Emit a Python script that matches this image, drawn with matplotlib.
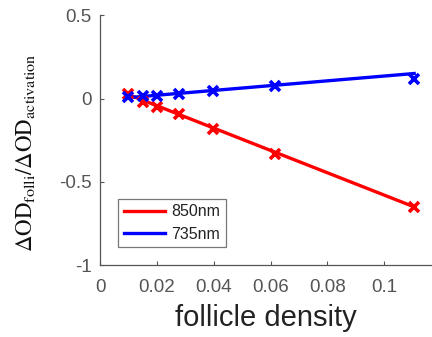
import matplotlib
matplotlib.use("Agg")
import matplotlib.pyplot as plt
import numpy as np

density = [0.0098, 0.0152, 0.0200, 0.0277, 0.0397, 0.0617, 0.1105]
od_850 = [0.030, -0.020, -0.050, -0.095, -0.180, -0.330, -0.650]
od_735 = [0.010, 0.015, 0.015, 0.030, 0.045, 0.075, 0.120]
fit_x = [0.0098, 0.1105]
fit_850 = [0.025, -0.650]
fit_735 = [0.005, 0.150]
labels = ["850nm", "735nm"]

plt.rcParams['font.family'] = ['Liberation Sans', 'DejaVu Sans']
plt.rcParams['mathtext.fontset'] = 'stix'

fig = plt.figure(figsize=(4.32, 3.37), dpi=100)
ax = fig.add_axes([0.2315, 0.213, 0.77, 0.742])

gray = '#555555'
ax.plot(fit_x, fit_850, color='#ff0000', lw=2.4, label=labels[0], zorder=3)
ax.plot(fit_x, fit_735, color='#0000ff', lw=2.4, label=labels[1], zorder=3)
ax.plot(density, od_850, ls='none', marker='x', ms=7.5, mew=2.6, color='#ff0000', zorder=4)
ax.plot(density, od_735, ls='none', marker='x', ms=7.5, mew=2.6, color='#0000ff', zorder=4)

ax.set_xlim(0, 0.117)
ax.set_ylim(-1, 0.5)
ax.set_xticks([0, 0.02, 0.04, 0.06, 0.08, 0.1])
ax.set_xticklabels(['0', '0.02', '0.04', '0.06', '0.08', '0.1'])
ax.set_yticks([-1, -0.5, 0, 0.5])
ax.set_yticklabels(['-1', '-0.5', '0', '0.5'])
for s in ['top', 'right']:
    ax.spines[s].set_visible(False)
for s in ['left', 'bottom']:
    ax.spines[s].set_color(gray)
    ax.spines[s].set_linewidth(0.9)
ax.tick_params(direction='in', length=3, width=0.8, color=gray, labelcolor=gray,
               labelsize=13.5)
ax.tick_params(axis='x', pad=10)
ax.tick_params(axis='y', pad=6)

ax.set_xlabel('follicle density', fontsize=21, color='#222222', labelpad=6)
ax.set_ylabel(r'$\Delta\mathrm{OD}_{\mathrm{folli}}/\Delta\mathrm{OD}_{\mathrm{activation}}$',
              fontsize=16.5, color='#111111')
ax.yaxis.set_label_coords(-0.19, 0.45)

leg = ax.legend(loc='lower left', bbox_to_anchor=(0.054, 0.072), fontsize=11.5,
                frameon=True, fancybox=False, handlelength=2.6, handletextpad=0.4,
                borderpad=0.35, labelspacing=0.45, borderaxespad=0)
leg.get_frame().set_edgecolor(gray)
leg.get_frame().set_linewidth(0.9)
for t in leg.get_texts():
    t.set_color('#222222')

fig.savefig('out.png', dpi=100)
